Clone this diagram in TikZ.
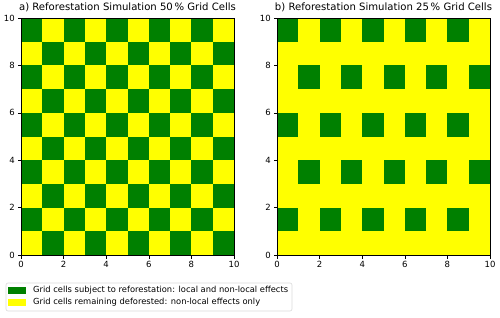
\documentclass[tikz,border=0pt]{standalone}
\usepackage{fontspec}
\setmainfont{DejaVu Sans}
\definecolor{forest}{HTML}{008000}
\definecolor{bare}{HTML}{FFFF00}
\definecolor{legline}{HTML}{D9D9D9}

\begin{document}
\begin{tikzpicture}[x=1pt,y=1pt]
 \tikzstyle{frame}=[draw=black,line width=0.6pt]
 \tikzstyle{tickmark}=[draw=black,line width=0.6pt]
 \tikzstyle{ticklab}=[font=\fontsize{8.5}{10}\selectfont,inner sep=0pt]
 \tikzstyle{paneltitle}=[font=\fontsize{10.1}{12}\selectfont,anchor=base,inner sep=0pt]
 \tikzstyle{legtext}=[font=\fontsize{8.35}{10}\selectfont,anchor=west,inner sep=0pt]
 \useasboundingbox (0,0) rectangle (500,317);
 % panel a: every second cell
 \begin{scope}[shift={(21,62)},x=21.3pt,y=23.7pt]
  \fill[bare] (0,0) rectangle (10,10);
  \foreach \i in {0,...,9}
   \foreach \j in {0,...,9}{
    \pgfmathparse{int(mod(\i+\j,2))}
    \ifnum\pgfmathresult=1 \fill[forest] (\i,\j) rectangle ++(1,1); \fi
   }
  \draw[frame] (0,0) rectangle (10,10);
  \foreach \t in {0,2,...,10}{
   \draw[tickmark] (\t,0) -- ++(0,-3.5pt);
   \draw[tickmark] (0,\t) -- ++(-3.5pt,0);
   \node[ticklab,anchor=north] (xa\t) at ([yshift=-6pt]\t,0) {\t};
   \node[ticklab,anchor=east] (ya\t) at ([xshift=-6pt]0,\t) {\t};
  }
  \node[paneltitle] (titleA) at (5,10.33) {a) Reforestation Simulation 50\,\% Grid Cells};
 \end{scope}
 % panel b: every fourth cell
 \begin{scope}[shift={(277,62)},x=21.3pt,y=23.7pt]
  \fill[bare] (0,0) rectangle (10,10);
  \foreach \j in {1,3,...,9}
   \foreach \i in {0,...,9}{
    \pgfmathparse{int(mod(\i+(\j-1)/2,2))}
    \ifnum\pgfmathresult=0 \fill[forest] (\i,\j) rectangle ++(1,1); \fi
   }
  \draw[frame] (0,0) rectangle (10,10);
  \foreach \t in {0,2,...,10}{
   \draw[tickmark] (\t,0) -- ++(0,-3.5pt);
   \draw[tickmark] (0,\t) -- ++(-3.5pt,0);
   \node[ticklab,anchor=north] (xb\t) at ([yshift=-6pt]\t,0) {\t};
   \node[ticklab,anchor=east] (yb\t) at ([xshift=-6pt]0,\t) {\t};
  }
  \node[paneltitle] (titleB) at (5,10.33) {b) Reforestation Simulation 25\,\% Grid Cells};
 \end{scope}
 % legend
 \draw[legline,rounded corners=2pt,line width=0.6pt] (6,6) rectangle (292,34);
 \fill[forest] (8.3,23.5) rectangle (26,30.5);
 \fill[bare] (8.3,11.5) rectangle (26,18.5);
 \node[legtext] (legForest) at (33,27) {Grid cells subject to reforestation: local and non-local effects};
 \node[legtext] (legBare) at (33,15) {Grid cells remaining deforested: non-local effects only};
\end{tikzpicture}
\end{document}
